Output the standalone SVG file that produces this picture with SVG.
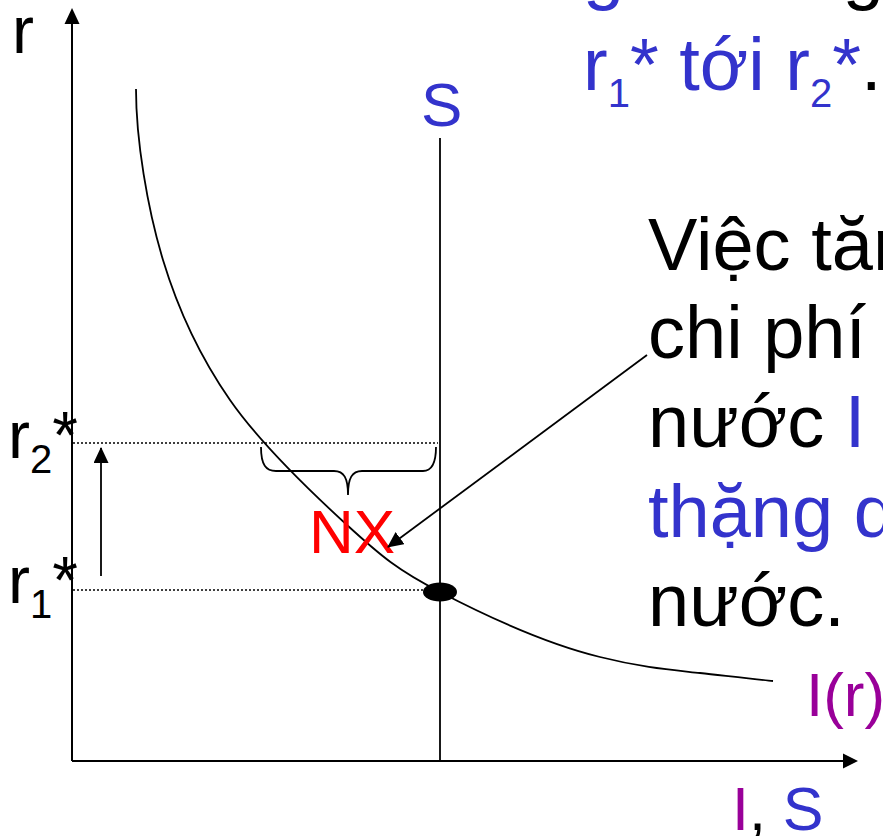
<svg xmlns="http://www.w3.org/2000/svg" width="883" height="836" viewBox="0 0 883 836">
<defs>
<style>
text{font-family:"Liberation Sans",Arial,sans-serif}
.ax{stroke:#000;stroke-width:2;fill:none}
.ln{stroke:#000;stroke-width:1.8;fill:none}
.dot{stroke:#000;stroke-width:1.6;stroke-dasharray:2 2;fill:none}
.blue{fill:#3333CC}
.purple{fill:#990099}
.red{fill:#FF0000}
.blk{fill:#000}
</style>
<marker id="ah" markerWidth="16" markerHeight="15" refX="15" refY="7.5" orient="auto" markerUnits="userSpaceOnUse" viewBox="0 0 16 15">
<path d="M0,0 L16,7.5 L0,15 Z" fill="#000"/>
</marker>
</defs>
<rect width="883" height="836" fill="#fff"/>
<g id="axes">
<line class="ax" x1="72" y1="761" x2="72" y2="22"/>
<path d="M64.5,24 L72,8 L79.5,24 Z" fill="#000"/>
<line class="ax" x1="72" y1="761" x2="845" y2="761"/>
<path d="M843,753.5 L858,761 L843,768.5 Z" fill="#000"/>
<text x="12" y="53" font-size="66" class="blk">r</text>
<text x="732" y="830" font-size="61"><tspan class="purple">I</tspan><tspan class="blk">,</tspan><tspan class="blue"> S</tspan></text>
</g>
<g id="S-line">
<line class="ln" x1="440" y1="138" x2="440" y2="761"/>
<text x="421" y="126" font-size="62" class="blue">S</text>
</g>
<g id="I-curve">
<path class="ln" d="M136,89 C136,140 147.3,208.2 163,260 C178.7,311.8 199.3,355.8 230,400 C260.7,444.2 312,493 347,525 C382,557 397.8,570 440,592 C482.2,614 545,643.5 600,657 C643,667.8 671,669.8 700,673 C728.8,676.2 761,680 773,681"/>
<text x="806" y="716" font-size="62" class="purple">I(r)</text>
</g>
<g id="levels">
<line class="dot" x1="73" y1="443" x2="438" y2="443"/>
<line class="dot" x1="73" y1="590" x2="426" y2="590"/>
<text x="8" y="458" font-size="66" class="blk">r<tspan font-size="40" dy="15">2</tspan><tspan dy="-15">*</tspan></text>
<text x="8" y="603" font-size="66" class="blk">r<tspan font-size="40" dy="15">1</tspan><tspan dy="-15">*</tspan></text>
</g>
<g id="equilibrium">
<ellipse cx="440" cy="592" rx="17" ry="9.5" fill="#000"/>
</g>
<g id="NX">
<path class="ln" d="M261,447 C261,465 266,471 276,471 L334,471 C344,471 348,478 348,495 C348,478 352,471 362,471 L423,471 C432,471 436,463 436,447"/>
<text x="309" y="553" font-size="62" class="red">NX</text>
</g>
<g id="connectors">
<line class="ln" x1="101" y1="576" x2="101" y2="448" marker-end="url(#ah)"/>
<line class="ln" x1="647" y1="355" x2="388" y2="547" marker-end="url(#ah)"/>
</g>
<g id="text-top">
<text x="583" y="-4" font-size="74"><tspan class="blue">giới</tspan><tspan x="740" class="blk">tăng</tspan></text>
<text x="583" y="90" font-size="74" class="blue">r<tspan font-size="40" dy="17">1</tspan><tspan dy="-17">* tới r</tspan><tspan font-size="40" dy="17">2</tspan><tspan dy="-17">*</tspan><tspan class="blk">.</tspan></text>
</g>
<g id="text-right" font-size="74">
<text x="648" y="270" class="blk">Việc tăng</text>
<text x="648" y="358" class="blk">chi phí</text>
<text x="648" y="447" class="blk">nước <tspan class="blue">I</tspan> c</text>
<text x="648" y="537" class="blue">thặng dư</text>
<text x="648" y="626" class="blk">nước.</text>
</g>
</svg>
